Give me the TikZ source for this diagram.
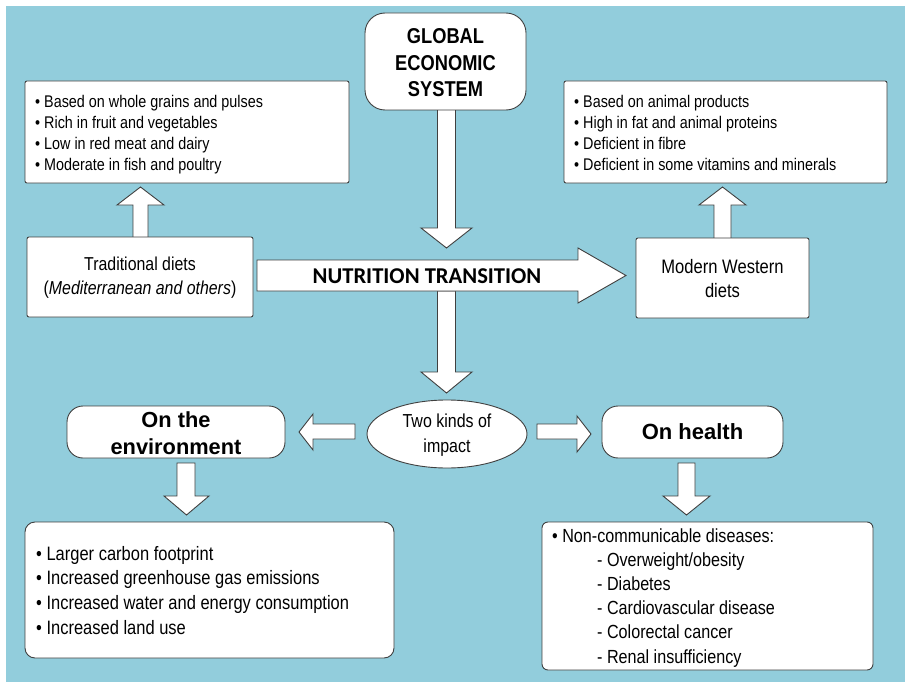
\documentclass[tikz,border=0pt]{standalone}
\usepackage{fontspec}
\setmainfont{Liberation Sans}
\newfontfamily\narrow[FakeStretch=0.85]{Liberation Sans}
\newfontfamily\calib{Carlito}
\usetikzlibrary{shapes.geometric}
\definecolor{bg}{HTML}{92CDDC}
\definecolor{edge}{HTML}{404040}
\begin{document}
\begin{tikzpicture}[x=1pt,y=-1pt,
  box/.style={draw=edge, fill=white, line width=0.9pt, rounded corners=2pt, inner sep=0pt},
  barrow/.style={draw=edge, fill=white, line width=0.9pt, line join=miter},
  bul/.style={inner sep=0pt, anchor=base west, font=\narrow\fontsize{16.9}{20}\selectfont},
  bulb/.style={inner sep=0pt, anchor=base west, font=\narrow\fontsize{19.4}{23}\selectfont},
  bulc/.style={inner sep=0pt, anchor=base west, font=\narrow\fontsize{19}{23}\selectfont},
  ctxt/.style={inner sep=0pt, align=center},
]
\useasboundingbox (0,0) rectangle (905,682);
\fill[bg] (6,6) rectangle (905,682);

% ---- block arrows (drawn first, boxes on top) ----
% global -> nutrition
\draw[barrow] (437.5,108) -- (437.5,228) -- (421,228) -- (446.5,248) -- (472,228) -- (455.5,228) -- (455.5,108) -- cycle;
% nutrition -> two kinds
\draw[barrow] (437.5,291) -- (437.5,372) -- (421,372) -- (446.5,393) -- (472,372) -- (455.5,372) -- (455.5,291) -- cycle;
% nutrition transition
\draw[barrow] (257,260) -- (578,260) -- (578,248) -- (626,275.5) -- (578,303) -- (578,291) -- (257,291) -- cycle;
\node[inner sep=0pt, font=\calib\bfseries\fontsize{22.6}{22.6}\selectfont] (ntt) at (427,276) {NUTRITION TRANSITION};
% traditional -> list
\draw[barrow] (133,239) -- (133,205) -- (117,205) -- (140.5,187) -- (164,205) -- (148,205) -- (148,239) -- cycle;
% modern -> list
\draw[barrow] (714,240) -- (714,205) -- (699,205) -- (722.5,187) -- (746,205) -- (731,205) -- (731,240) -- cycle;
% two kinds -> environment
\draw[barrow] (355,424) -- (313,424) -- (313,414) -- (299,432) -- (313,450) -- (313,439) -- (355,439) -- cycle;
% two kinds -> health
\draw[barrow] (537,424) -- (577,424) -- (577,416) -- (591,434) -- (577,452) -- (577,439) -- (537,439) -- cycle;
% environment -> list
\draw[barrow] (177,463) -- (177,496) -- (164,496) -- (186.5,515) -- (209,496) -- (195,496) -- (195,463) -- cycle;
% health -> list
\draw[barrow] (678,463) -- (678,496) -- (663,496) -- (686.5,515) -- (710,496) -- (695,496) -- (695,463) -- cycle;

% ---- boxes ----
\node[box, rounded corners=20pt, minimum width=161pt, minimum height=97pt] (ges) at (445.5,61.5) {};
\node[ctxt, font=\narrow\bfseries\fontsize{21.5}{26.5}\selectfont] (gest) at (445.5,63) {GLOBAL\\ECONOMIC\\SYSTEM};

\node[box, minimum width=324pt, minimum height=102pt] (tl) at (187,132) {};
\foreach \t [count=\i] in {• Based on whole grains and pulses, • Rich in fruit and vegetables, • Low in red meat and dairy, • Moderate in fish and poultry}
  \node[bul] (tl\i) at (35,{108+20.7*(\i-1)}) {\t};

\node[box, minimum width=323pt, minimum height=102pt] (tr) at (725.5,132) {};
\foreach \t [count=\i] in {• Based on animal products, • High in fat and animal proteins, • Deficient in fibre, • Deficient in some vitamins and minerals}
  \node[bul] (tr\i) at (574,{108+20.7*(\i-1)}) {\t};

\node[box, minimum width=226pt, minimum height=80pt] (trad) at (140,277) {};
\node[ctxt, font=\narrow\fontsize{18.7}{24}\selectfont] (tradt) at (140,277.5) {Traditional diets\\(\textit{Mediterranean and others})};

\node[box, minimum width=173pt, minimum height=80pt] (mod) at (722.5,278) {};
\node[ctxt, font=\narrow\fontsize{19.5}{24}\selectfont] (modt) at (722.5,278.5) {Modern Western\\diets};

\node[draw=edge, fill=white, line width=0.9pt, ellipse, minimum width=160pt, minimum height=68pt, inner sep=0pt] (two) at (447,434) {};
\node[ctxt, font=\narrow\fontsize{18.8}{25}\selectfont] (twot) at (447,435) {Two kinds of\\impact};

\node[box, rounded corners=16pt, minimum width=218pt, minimum height=52pt] (env) at (176,432) {};
\node[ctxt, font=\bfseries\fontsize{21.8}{27}\selectfont] (envt) at (176,433.5) {On the\\environment};

\node[box, rounded corners=16pt, minimum width=181pt, minimum height=52pt] (hea) at (692.5,432) {};
\node[ctxt, font=\bfseries\fontsize{22}{27}\selectfont] (heat) at (692.5,432) {On health};

\node[box, rounded corners=10pt, minimum width=369pt, minimum height=136pt] (envl) at (209.5,590) {};
\foreach \t [count=\i] in {• Larger carbon footprint, • Increased greenhouse gas emissions, • Increased water and energy consumption, • Increased land use}
  \node[bulb] (envl\i) at (36,{560+24.7*(\i-1)}) {\t};

\node[box, rounded corners=6pt, minimum width=331pt, minimum height=148pt] (heal) at (707.5,596) {};
\node[bulc] (heal0) at (552,542) {• Non-communicable diseases:};
\foreach \t [count=\i] in {- Overweight/obesity, - Diabetes, - Cardiovascular disease, - Colorectal cancer, - Renal insufficiency}
  \node[bulc] (heal\i) at (597,{542+24.2*\i}) {\t};
\end{tikzpicture}
\end{document}
